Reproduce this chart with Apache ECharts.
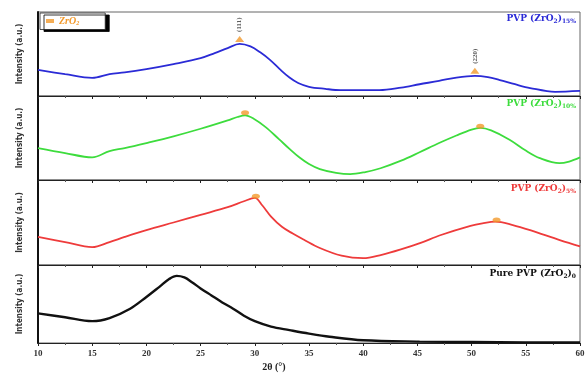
<!DOCTYPE html>
<html>
<head>
<meta charset="utf-8">
<script src="https://cdn.jsdelivr.net/npm/echarts@6/dist/echarts.min.js"></script>
<style>
  html, body { margin: 0; padding: 0; background: #fff; }
  #chart { width: 588px; height: 373px; }
</style>
</head>
<body>
<div id="chart"></div>
<script>
// 2θ positions and intensities (a.u., 0-100 per panel)
const blueTheta = [10, 12.5, 15, 16.6, 18, 20, 22.5, 25, 26.3, 27.5, 28.6, 29.6, 30.5, 31.4, 32.3, 33.2, 34, 35, 36.5, 37.9, 41.5, 43.5, 45.2, 47, 48.6, 50.3, 51.5, 52.6, 54, 55.4, 57.7, 60];
const blueInt = [31, 26, 21.5, 26, 28, 32, 38, 45, 51, 57, 62, 59, 52, 43, 32, 22, 15.5, 11, 8.5, 7, 7, 10, 14, 18, 22, 24, 22.5, 19, 14, 9.5, 5, 6];

const greenTheta = [10, 12.5, 15, 16.6, 18, 20, 22.5, 25, 27.5, 28.4, 29.1, 29.9, 31, 32.2, 33.2, 34.1, 35, 36, 37.5, 38.8, 40.2, 41.6, 43.5, 45.2, 47, 48.6, 50, 50.8, 51.8, 53.5, 55, 56.3, 58.1, 59, 60];
const greenInt = [38, 32, 27, 34.5, 38, 44, 52, 61, 71, 75, 77, 73, 63, 49, 37, 27, 19, 13, 8.5, 7, 9.5, 14, 23, 33, 44, 53, 60, 62, 59, 48, 35, 26, 20, 22, 27];

const redTheta = [10, 12.5, 15, 16.6, 18, 20, 22.5, 25, 27.5, 29, 30, 30.7, 31.5, 32.5, 33.5, 34.5, 36, 38, 40, 41.7, 43.4, 45.3, 47.1, 49.9, 51, 52.2, 53.8, 55.4, 58.2, 60];
const redInt = [33, 27, 21, 27, 33, 41, 50, 59, 68, 75, 79, 70, 57, 45, 37, 30, 20, 11, 8, 12, 18, 26, 35, 46, 49, 51, 47, 41, 29, 22];

const blackTheta = [10, 12.5, 15, 16.6, 18.5, 20, 21.2, 22.1, 22.8, 23.5, 24.2, 25, 26, 27, 28, 29, 30, 31.5, 33.2, 35, 36.9, 40, 45.2, 50, 55, 60];
const blackInt = [38, 33, 28, 32, 44, 59, 72, 82, 86, 84, 78, 70, 61, 52, 44, 35, 28, 21, 16.5, 12, 8, 3.5, 1.8, 1.2, 0.8, 0.6];

// ZrO2 reflections marked on each doped sample
const blueMarks = [[28.6, 68], [50.3, 30]];
const greenMarks = [[29.1, 80], [50.8, 64]];
const redMarks = [[30.1, 81], [52.3, 53]];
const hklLabels = ["(111)", "(220)"];

const xTicks = [10, 15, 20, 25, 30, 35, 40, 45, 50, 55, 60];

const panelNames = [
  { main: "PVP (ZrO", sub1: "2", tail: ")", sub2: "15%", color: "#2b2bd6" },
  { main: "PVP (ZrO", sub1: "2", tail: ")", sub2: "10%", color: "#3ddc3d" },
  { main: "PVP (ZrO", sub1: "2", tail: ")", sub2: "5%", color: "#ee3b3b" },
  { main: "Pure PVP (ZrO", sub1: "2", tail: ")", sub2: "0", color: "#111" },
];
const lineColors = ["#2b2bd6", "#3ddc3d", "#ee3b3b", "#111111"];
const markColor = "#f39a2c";

const chart = echarts.init(document.getElementById("chart"), null, { renderer: "canvas" });

const grids = [
  { top: 12, height: 84 },
  { top: 96, height: 84 },
  { top: 180, height: 85 },
  { top: 265, height: 85 },
].map((g) => ({
  left: 38, right: 8, top: g.top, height: g.height,
  show: true, borderColor: "#666", borderWidth: 1,
}));

const serif = "Liberation Serif";

const xAxes = grids.map((g, i) => ({
  type: "value", gridIndex: i, min: 10, max: 60, interval: 5,
  axisLine: { lineStyle: { color: "#222", width: 1.2 } },
  axisTick: { show: true, length: 3, lineStyle: { color: "#222" } },
  minorTick: { show: true, splitNumber: 2, length: 2, lineStyle: { color: "#555" } },
  splitLine: { show: false },
  axisLabel: {
    show: i === 3, color: "#333", fontFamily: serif, fontWeight: "bold", fontSize: 9, margin: 6,
    formatter: (v) => (xTicks.includes(v) ? String(v) : ""),
  },
  name: i === 3 ? "2θ (°)" : "",
  nameLocation: "middle", nameGap: 19,
  nameTextStyle: { color: "#222", fontFamily: serif, fontWeight: "bold", fontSize: 10, padding: [0, 0, 0, -70] },
}));

const yAxes = grids.map((g, i) => ({
  type: "value", gridIndex: i, min: 0, max: 100,
  axisLine: { show: true, lineStyle: { color: "#111", width: 2 } },
  axisTick: { show: false },
  axisLabel: { show: false },
  splitLine: { show: false },
  name: "Intensity (a.u.)",
  nameLocation: "middle", nameGap: 14,
  nameTextStyle: { color: "#333", fontFamily: "DejaVu Sans Condensed", fontWeight: "bold", fontSize: 8 },
}));

const thetas = [blueTheta, greenTheta, redTheta, blackTheta];
const ints = [blueInt, greenInt, redInt, blackInt];
const lineSeries = thetas.map((t, i) => ({
  type: "line", xAxisIndex: i, yAxisIndex: i,
  data: t.map((x, k) => [x, ints[i][k]]),
  smooth: 0.35,
  showSymbol: false,
  lineStyle: { color: lineColors[i], width: i === 3 ? 2.4 : 1.8 },
  silent: true, z: 3,
}));

const markSets = [blueMarks, greenMarks, redMarks];
const markSeries = markSets.map((m, i) => ({
  name: "ZrO2", type: "scatter", xAxisIndex: i, yAxisIndex: i,
  data: m,
  symbol: i === 0 ? "triangle" : "circle",
  symbolSize: i === 0 ? [9, 6] : [8, 5],
  itemStyle: { color: markColor },
  label: i === 0 ? {
    show: true, position: "top", distance: 4, rotate: 90, align: "left", verticalAlign: "middle",
    formatter: (p) => hklLabels[p.dataIndex],
    fontFamily: serif, fontSize: 7, fontWeight: "bold", color: "#333",
  } : { show: false },
  z: 5,
}));

const panelTops = [14, 99, 184, 269];
const graphics = panelNames.map((p, i) => ({
  type: "text", right: 12, top: panelTops[i], z: 10,
  style: {
    text: `{m|${p.main}}{s|${p.sub1}}{m|${p.tail}}{s|${p.sub2}}`,
    rich: {
      m: { fontFamily: "DejaVu Serif", fontWeight: "bold", fontSize: 9, fill: p.color },
      s: { fontFamily: "DejaVu Serif", fontWeight: "bold", fontSize: 6, fill: p.color, padding: [5, 0, 0, 0] },
    },
  },
}));

chart.setOption({
  backgroundColor: "#fff",
  animation: false,
  grid: grids,
  xAxis: xAxes,
  yAxis: yAxes,
  legend: {
    left: 40, top: 13,
    data: [{ name: "ZrO2", icon: "rect" }],
    itemWidth: 8, itemHeight: 4, itemGap: 10,
    backgroundColor: "#fff", borderColor: "#222", borderWidth: 0.8,
    padding: [3, 26, 3, 6],
    shadowColor: "#000", shadowOffsetX: 4, shadowOffsetY: 2, shadowBlur: 0,
    formatter: () => "{a|ZrO}{b|2}",
    textStyle: {
      rich: {
        a: { fontFamily: serif, fontStyle: "italic", fontWeight: "bold", fontSize: 10, color: markColor },
        b: { fontFamily: serif, fontStyle: "italic", fontWeight: "bold", fontSize: 6, color: markColor, padding: [5, 0, 0, 0] },
      },
    },
  },
  graphic: graphics,
  series: [...lineSeries, ...markSeries],
});
</script>
</body>
</html>
